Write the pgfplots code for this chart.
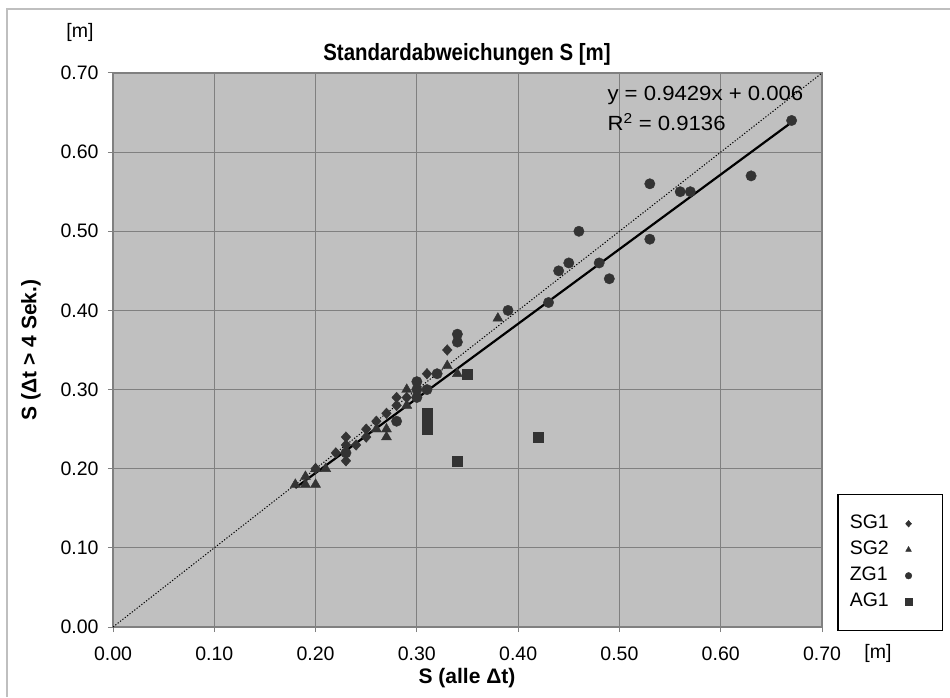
\documentclass[border=0pt]{standalone}
\usepackage{fontspec}
\setmainfont{Liberation Sans}
\newfontfamily\titlefont{Liberation Sans}[FakeStretch=0.87]
\newfontfamily\widefont{Liberation Sans}[FakeStretch=1.08]
\usepackage{pgfplots}
\pgfplotsset{compat=1.18}
\definecolor{plotbg}{HTML}{C0C0C0}
\definecolor{gridc}{HTML}{808080}
\definecolor{markc}{HTML}{333333}
\begin{document}
\begin{tikzpicture}[x=1pt,y=1pt]
\useasboundingbox (0,0) rectangle (950,697);
\draw[color=black!25, line width=1.5pt] (7,0) -- (7,688) -- (950,688);
\begin{axis}[
  scale only axis, width=709pt, height=554pt,
  at={(113pt,70pt)}, anchor=south west,
  xmin=0, xmax=0.7, ymin=0, ymax=0.7,
  xtick={0,0.1,0.2,0.3,0.4,0.5,0.6,0.7},
  ytick={0,0.1,0.2,0.3,0.4,0.5,0.6,0.7},
  xtick pos=left, ytick pos=left,
  tick align=outside, major tick length=5pt,
  tick style={gridc, line width=1pt},
  grid=major, major grid style={gridc, line width=0.8pt},
  axis line style={gridc, line width=1.2pt},
  axis background/.style={fill=plotbg},
  /pgf/number format/.cd, fixed, fixed zerofill, precision=2, assume math mode=true,
  /pgfplots/.cd,
  every tick label/.append style={font=\fontsize{19.5}{23}\selectfont},
  xticklabel style={yshift=-11pt},
  yticklabel style={xshift=-6pt},
  legend plot pos=right,
  legend cell align=left,
  legend style={at={(rel axis cs:1.0212,0.2401)}, anchor=north west,
    draw=black, line width=1.5pt, fill=white,
    inner xsep=8pt, inner ysep=16pt,
    font=\fontsize{19.5}{24}\selectfont,
    nodes={inner sep=4pt, text height=14pt, text depth=4pt}},
  legend image code/.code={\path (0pt,0pt) (40pt,0pt); \draw[#1, line width=0.4pt, mark size=3.3pt] plot coordinates {(15pt,0pt)};},
]
\addplot[black, line width=1pt, dash pattern=on 1.2pt off 1.8pt, forget plot] coordinates {(0,0) (0.7,0.7)};
\addplot[black, line width=2.2pt, forget plot] coordinates {(0.18,0.1757) (0.67,0.6377)};

\addplot[only marks, mark=diamond*, mark size=5.3pt, mark options={fill=markc, draw=markc, xscale=1.2}] coordinates {
 (0.20,0.20) (0.22,0.22) (0.23,0.24) (0.23,0.23) (0.23,0.21) (0.24,0.23)
 (0.25,0.25) (0.25,0.24) (0.26,0.26) (0.27,0.27) (0.28,0.28) (0.28,0.29)
 (0.29,0.29) (0.31,0.32) (0.33,0.35)};
\addlegendentry{SG1}
\addplot[only marks, mark=triangle*, mark size=5.8pt, mark options={fill=markc, draw=markc}] coordinates {
 (0.18,0.18) (0.19,0.18) (0.19,0.19) (0.20,0.18) (0.20,0.20) (0.21,0.20)
 (0.26,0.25) (0.27,0.25) (0.27,0.24) (0.29,0.30) (0.29,0.28) (0.33,0.33)
 (0.34,0.32) (0.38,0.39)};
\addlegendentry{SG2}
\addplot[only marks, mark=*, mark size=5.2pt, mark options={fill=markc, draw=markc}] coordinates {
 (0.23,0.22) (0.28,0.26) (0.30,0.31) (0.30,0.30) (0.30,0.29) (0.31,0.30)
 (0.32,0.32) (0.34,0.37) (0.34,0.36) (0.39,0.40) (0.43,0.41) (0.44,0.45)
 (0.45,0.46) (0.46,0.50) (0.48,0.46) (0.49,0.44) (0.53,0.56) (0.53,0.49)
 (0.56,0.55) (0.57,0.55) (0.63,0.57) (0.67,0.64)};
\addlegendentry{ZG1}
\addplot[only marks, mark=square*, mark size=5pt, mark options={fill=markc, draw=markc}] coordinates {
 (0.31,0.27) (0.31,0.26) (0.31,0.25) (0.34,0.21) (0.35,0.32) (0.42,0.24)};
\addlegendentry{AG1}
\end{axis}
\node[font=\fontsize{23.5}{27}\titlefont\bfseries] at (467,643) {Standardabweichungen S [m]};
\node[font=\fontsize{19.5}{23}\selectfont] at (80,665) {[m]};
\node[font=\fontsize{19.5}{23}\selectfont] at (878,44) {[m]};
\node[font=\fontsize{21}{24}\selectfont\bfseries] at (467,19) {S (alle Δt)};
\node[font=\fontsize{21}{24}\selectfont\bfseries, rotate=90] at (31,347) {S (Δt > 4 Sek.)};
\node[font=\fontsize{20.5}{24}\widefont, anchor=west] at (604,602) {y = 0.9429x + 0.006};
\node[font=\fontsize{20.5}{24}\widefont, anchor=west] at (604,575) {R\textsuperscript{2} = 0.9136};
\end{tikzpicture}
\end{document}
